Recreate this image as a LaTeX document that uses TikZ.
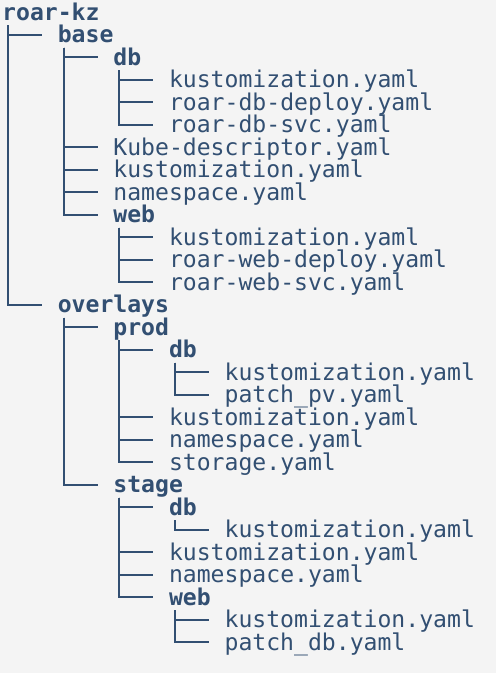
\documentclass[tikz,border=0pt]{standalone}
\usepackage{fontspec}
\usepackage{tikz}
\usepackage{xcolor}
\newfontfamily\treefont{DejaVu Sans Mono}
\definecolor{treeink}{HTML}{324F72}
\definecolor{pagebg}{HTML}{F4F4F4}

\begin{document}
\begin{tikzpicture}[
x=1pt, y=1pt,
entry/.style={anchor=base west, inner sep=0pt, text=treeink, font=\treefont\fontsize{23.1}{23.1}\selectfont},
branch/.style={draw=treeink, line width=2pt},
]
\fill[pagebg] (0,0) rectangle (496,-673);
\useasboundingbox (0,0) rectangle (496,-673);
% one entry per row: level / weight / name
\foreach \lvl/\sty/\txt [count=\r from 0] in {
  0/\bfseries/roar-kz,
  1/\bfseries/base,
  2/\bfseries/db,
  3/\mdseries/kustomization.yaml,
  3/\mdseries/roar-db-deploy.yaml,
  3/\mdseries/roar-db-svc.yaml,
  2/\mdseries/Kube-descriptor.yaml,
  2/\mdseries/kustomization.yaml,
  2/\mdseries/namespace.yaml,
  2/\bfseries/web,
  3/\mdseries/kustomization.yaml,
  3/\mdseries/roar-web-deploy.yaml,
  3/\mdseries/roar-web-svc.yaml,
  1/\bfseries/overlays,
  2/\bfseries/prod,
  3/\bfseries/db,
  4/\mdseries/kustomization.yaml,
  4/\mdseries/patch\_pv.yaml,
  3/\mdseries/kustomization.yaml,
  3/\mdseries/namespace.yaml,
  3/\mdseries/storage.yaml,
  2/\bfseries/stage,
  3/\bfseries/db,
  4/\mdseries/kustomization.yaml,
  3/\mdseries/kustomization.yaml,
  3/\mdseries/namespace.yaml,
  3/\bfseries/web,
  4/\mdseries/kustomization.yaml,
  4/\mdseries/patch\_db.yaml}
  \node[entry] (n\r) at ({2+55.6*\lvl}, {-20-22.5*\r}) {\sty\txt};
% parent / child
\foreach \p/\c in {0/1,1/2,2/3,2/4,2/5,1/6,1/7,1/8,1/9,9/10,9/11,9/12,
  0/13,13/14,14/15,15/16,15/17,14/18,14/19,14/20,13/21,21/22,22/23,
  21/24,21/25,21/26,26/27,26/28}
  \draw[branch] ([shift={(6,-5)}]n\p.base west) |- ([shift={(-15.6,8)}]n\c.base west);
\end{tikzpicture}
\end{document}
